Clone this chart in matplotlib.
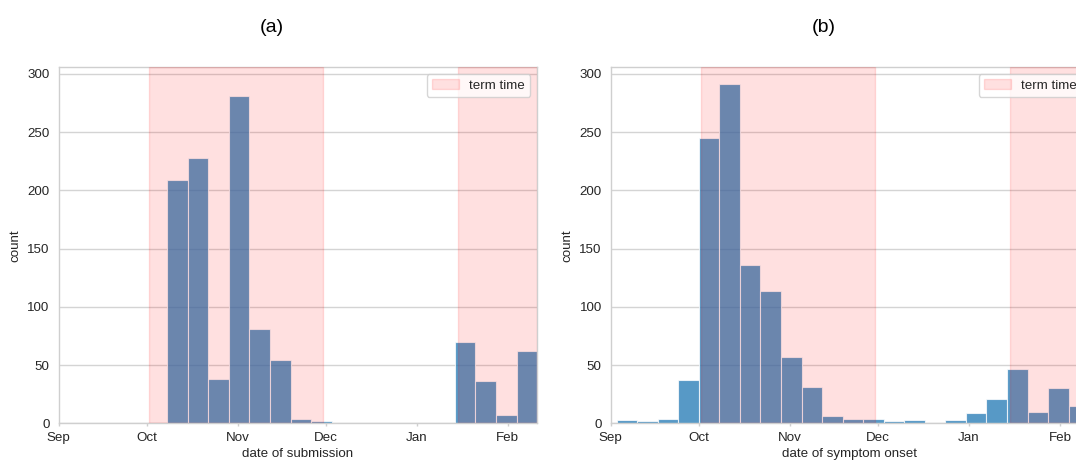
import numpy as np
import pandas as pd
import matplotlib
matplotlib.use('Agg')
import matplotlib.pyplot as plt
import matplotlib.dates as mdates

plt.rcParams['font.family'] = ['Liberation Sans', 'DejaVu Sans']
plt.rcParams['font.size'] = 9.6

# weekly bins (counts per week, first bin start given)
sub_start = "2020-10-08"
sub_counts = [209, 228, 38, 281, 81, 54, 4, 2,
              0, 0, 0, 0, 0, 0,
              70, 36, 7, 62]

onset_start = "2020-09-03"
onset_counts = [3, 2, 4, 37, 245, 291, 136, 114, 57, 31, 6, 4, 4, 2, 3, 0,
                3, 9, 21, 47, 10, 30, 15]

term_times = [("2020-10-01 18:00", "2020-11-30"), ("2021-01-15", "2021-03-26")]
x_range = ("2020-09-01", "2021-02-11")

panels = [
    ("(a)", sub_start, sub_counts, "date of submission"),
    ("(b)", onset_start, onset_counts, "date of symptom onset"),
]

fig = plt.figure(figsize=(10.76, 4.62), dpi=100)
ax_pos = [[0.0545, 0.0837, 0.4447, 0.7706], [0.5676, 0.0837, 0.4447, 0.7706]]
title_x = [272 / 1076, 824 / 1076]

bar_color = '#1f77b4'
grid_c = '#d4d4d4'

for i, (title, start, counts, xlabel) in enumerate(panels):
    ax = fig.add_axes(ax_pos[i])
    bins = pd.date_range(start, periods=len(counts), freq='7D')
    ax.bar(bins, counts, width=pd.Timedelta(days=7), align='edge',
           color=bar_color, alpha=0.75, edgecolor='white', linewidth=0.8, zorder=2)
    for k, (t0, t1) in enumerate(term_times):
        ax.axvspan(pd.Timestamp(t0), pd.Timestamp(t1), color='red', alpha=0.12,
                   lw=1, zorder=3, label='term time' if k == 0 else None)

    ax.set_xlim(pd.Timestamp(x_range[0]), pd.Timestamp(x_range[1]))
    ax.set_ylim(0, 305.6)
    ax.set_yticks(np.arange(0, 301, 50))
    ax.xaxis.set_major_locator(mdates.MonthLocator())
    ax.xaxis.set_major_formatter(mdates.DateFormatter('%b'))

    ax.grid(axis='y', color=grid_c, linewidth=1, zorder=0)
    ax.set_axisbelow(True)
    for sp in ax.spines.values():
        sp.set_color('#cfcfcf')
        sp.set_linewidth(1)
    ax.tick_params(axis='x', length=2.5, width=1, color='#cfcfcf', pad=4, labelcolor='#262626')
    ax.tick_params(axis='y', length=0, pad=6.5, labelcolor='#262626')

    ax.set_xlabel(xlabel, color='#262626', labelpad=2.5)
    ax.set_ylabel('count', color='#262626', labelpad=4)
    leg = ax.legend(loc='upper right', fancybox=True, framealpha=0.8,
                    edgecolor='#cccccc', borderpad=0.4)
    for t in leg.get_texts():
        t.set_color('#262626')

    fig.text(title_x[i], 1 - 27 / 462, title, ha='center', va='center', fontsize=14)

plt.savefig('out.png', dpi=100)
plt.close()
